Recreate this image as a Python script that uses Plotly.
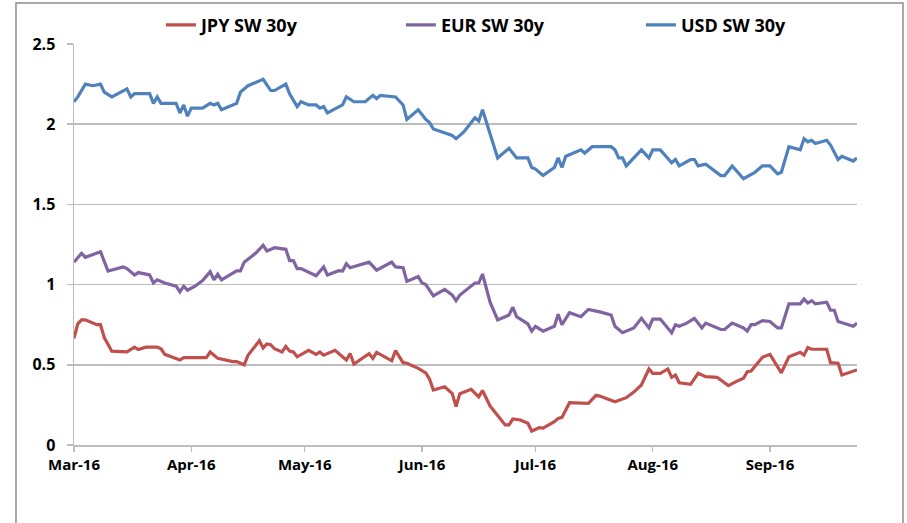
import plotly.graph_objects as go

# ---------------- data ----------------
usd_dates = ["2016-03-01","2016-03-02","2016-03-04","2016-03-06","2016-03-08","2016-03-09","2016-03-11","2016-03-15","2016-03-16","2016-03-17",
             "2016-03-21","2016-03-22","2016-03-23","2016-03-24","2016-03-28","2016-03-29","2016-03-30","2016-03-31","2016-04-01","2016-04-04",
             "2016-04-06","2016-04-07","2016-04-08","2016-04-09","2016-04-11","2016-04-13","2016-04-14","2016-04-16","2016-04-19","2016-04-20",
             "2016-04-22","2016-04-23","2016-04-26","2016-04-27","2016-04-29","2016-04-30","2016-05-02","2016-05-04","2016-05-05","2016-05-06",
             "2016-05-07","2016-05-11","2016-05-12","2016-05-14","2016-05-17","2016-05-19","2016-05-20","2016-05-21","2016-05-25","2016-05-27",
             "2016-05-28","2016-05-31","2016-06-02","2016-06-03","2016-06-04","2016-06-08","2016-06-09","2016-06-10","2016-06-12","2016-06-15",
             "2016-06-16","2016-06-17","2016-06-19","2016-06-21","2016-06-24","2016-06-26","2016-06-29","2016-06-30","2016-07-01","2016-07-03",
             "2016-07-06","2016-07-07","2016-07-08","2016-07-09","2016-07-10","2016-07-13","2016-07-14","2016-07-16","2016-07-17","2016-07-21",
             "2016-07-22","2016-07-23","2016-07-24","2016-07-25","2016-07-29","2016-07-31","2016-08-01","2016-08-03","2016-08-06","2016-08-07",
             "2016-08-08","2016-08-11","2016-08-12","2016-08-13","2016-08-15","2016-08-19","2016-08-20","2016-08-22","2016-08-25","2016-08-27",
             "2016-08-28","2016-08-30","2016-09-01","2016-09-03","2016-09-04","2016-09-06","2016-09-09","2016-09-10","2016-09-11","2016-09-12",
             "2016-09-13","2016-09-16","2016-09-17","2016-09-19","2016-09-20","2016-09-23","2016-09-24"]
usd_values = [2.14,2.17,2.25,2.24,2.25,2.20,2.17,2.22,2.17,2.19,
              2.19,2.13,2.17,2.13,2.13,2.07,2.12,2.05,2.10,2.10,
              2.13,2.12,2.13,2.09,2.11,2.13,2.20,2.24,2.27,2.28,
              2.21,2.21,2.25,2.19,2.11,2.14,2.12,2.12,2.10,2.11,
              2.07,2.12,2.17,2.14,2.14,2.18,2.16,2.18,2.17,2.12,
              2.03,2.09,2.03,2.01,1.97,1.94,1.93,1.91,1.95,2.04,
              2.02,2.09,1.94,1.79,1.85,1.79,1.79,1.73,1.72,1.68,
              1.73,1.79,1.73,1.80,1.81,1.84,1.82,1.86,1.86,1.86,
              1.84,1.79,1.79,1.74,1.84,1.79,1.84,1.84,1.76,1.78,
              1.74,1.78,1.78,1.74,1.75,1.68,1.68,1.74,1.66,1.69,
              1.70,1.74,1.74,1.69,1.70,1.86,1.84,1.91,1.89,1.90,
              1.88,1.90,1.87,1.78,1.80,1.77,1.79]

eur_dates = ["2016-03-01","2016-03-03","2016-03-04","2016-03-08","2016-03-10","2016-03-14","2016-03-15","2016-03-17","2016-03-18","2016-03-21",
             "2016-03-22","2016-03-23","2016-03-25","2016-03-28","2016-03-29","2016-03-30","2016-03-31","2016-04-02","2016-04-04","2016-04-06",
             "2016-04-07","2016-04-08","2016-04-09","2016-04-11","2016-04-13","2016-04-14","2016-04-15","2016-04-18","2016-04-20","2016-04-21",
             "2016-04-23","2016-04-26","2016-04-27","2016-04-28","2016-04-29","2016-04-30","2016-05-04","2016-05-06","2016-05-07","2016-05-10",
             "2016-05-11","2016-05-12","2016-05-13","2016-05-18","2016-05-20","2016-05-24","2016-05-25","2016-05-27","2016-05-28","2016-05-31",
             "2016-06-01","2016-06-02","2016-06-04","2016-06-07","2016-06-09","2016-06-10","2016-06-11","2016-06-15","2016-06-16","2016-06-17",
             "2016-06-19","2016-06-21","2016-06-24","2016-06-25","2016-06-26","2016-06-29","2016-06-30","2016-07-01","2016-07-03","2016-07-06",
             "2016-07-07","2016-07-08","2016-07-10","2016-07-13","2016-07-15","2016-07-18","2016-07-21","2016-07-22","2016-07-24","2016-07-27",
             "2016-07-29","2016-07-31","2016-08-01","2016-08-03","2016-08-06","2016-08-07","2016-08-08","2016-08-10","2016-08-12","2016-08-14",
             "2016-08-15","2016-08-19","2016-08-20","2016-08-22","2016-08-25","2016-08-26","2016-08-27","2016-08-28","2016-08-30","2016-09-01",
             "2016-09-03","2016-09-04","2016-09-06","2016-09-09","2016-09-10","2016-09-11","2016-09-12","2016-09-13","2016-09-16","2016-09-17",
             "2016-09-18","2016-09-19","2016-09-23","2016-09-24"]
eur_values = [1.14,1.195,1.17,1.205,1.085,1.11,1.10,1.06,1.075,1.06,
              1.01,1.03,1.01,0.99,0.955,0.99,0.965,0.99,1.025,1.08,
              1.03,1.065,1.03,1.06,1.085,1.085,1.14,1.195,1.245,1.21,
              1.23,1.22,1.15,1.15,1.10,1.10,1.055,1.11,1.06,1.087,
              1.085,1.13,1.105,1.14,1.09,1.14,1.11,1.105,1.02,1.05,
              1.01,1.00,0.93,0.97,0.935,0.90,0.935,1.01,1.01,1.066,
              0.89,0.78,0.81,0.86,0.80,0.755,0.71,0.74,0.71,0.74,
              0.815,0.75,0.825,0.80,0.845,0.83,0.81,0.74,0.70,0.73,
              0.79,0.73,0.785,0.785,0.70,0.75,0.74,0.76,0.79,0.73,
              0.76,0.72,0.72,0.76,0.73,0.71,0.75,0.75,0.775,0.77,
              0.73,0.73,0.88,0.88,0.91,0.885,0.90,0.88,0.89,0.84,
              0.84,0.77,0.74,0.76]

jpy_dates = ["2016-03-01","2016-03-02","2016-03-03","2016-03-04","2016-03-07","2016-03-08","2016-03-09","2016-03-11","2016-03-15","2016-03-17",
             "2016-03-18","2016-03-20","2016-03-23","2016-03-24","2016-03-25","2016-03-28","2016-03-29","2016-03-30","2016-04-05","2016-04-06",
             "2016-04-08","2016-04-12","2016-04-13","2016-04-15","2016-04-16","2016-04-19","2016-04-20","2016-04-21","2016-04-22","2016-04-23",
             "2016-04-25","2016-04-26","2016-04-27","2016-04-28","2016-04-29","2016-05-02","2016-05-04","2016-05-05","2016-05-06","2016-05-09",
             "2016-05-12","2016-05-13","2016-05-14","2016-05-18","2016-05-19","2016-05-20","2016-05-24","2016-05-25","2016-05-27","2016-05-28",
             "2016-05-31","2016-06-02","2016-06-03","2016-06-04","2016-06-07","2016-06-09","2016-06-10","2016-06-11","2016-06-14","2016-06-16",
             "2016-06-17","2016-06-19","2016-06-21","2016-06-23","2016-06-24","2016-06-25","2016-06-27","2016-06-29","2016-06-30","2016-07-02",
             "2016-07-03","2016-07-06","2016-07-07","2016-07-08","2016-07-10","2016-07-14","2016-07-15","2016-07-17","2016-07-18","2016-07-22",
             "2016-07-25","2016-07-27","2016-07-29","2016-07-31","2016-08-01","2016-08-03","2016-08-05","2016-08-06","2016-08-07","2016-08-08",
             "2016-08-11","2016-08-13","2016-08-15","2016-08-18","2016-08-21","2016-08-23","2016-08-25","2016-08-26","2016-08-27","2016-08-30",
             "2016-09-01","2016-09-04","2016-09-06","2016-09-09","2016-09-10","2016-09-11","2016-09-12","2016-09-16","2016-09-17","2016-09-19",
             "2016-09-20","2016-09-24"]
jpy_values = [0.665,0.755,0.78,0.78,0.75,0.75,0.67,0.585,0.58,0.61,
              0.595,0.61,0.61,0.60,0.565,0.535,0.53,0.545,0.545,0.58,
              0.54,0.52,0.52,0.50,0.56,0.65,0.605,0.63,0.625,0.60,
              0.58,0.615,0.585,0.58,0.55,0.59,0.565,0.58,0.56,0.59,
              0.53,0.57,0.505,0.57,0.54,0.578,0.525,0.588,0.513,0.51,
              0.478,0.45,0.41,0.343,0.363,0.32,0.24,0.32,0.347,0.30,
              0.34,0.243,0.187,0.125,0.125,0.162,0.156,0.135,0.087,0.108,
              0.105,0.145,0.166,0.172,0.264,0.264,0.26,0.31,0.305,0.27,
              0.295,0.33,0.374,0.474,0.447,0.447,0.474,0.422,0.436,0.388,
              0.378,0.447,0.426,0.422,0.37,0.395,0.416,0.457,0.461,0.547,
              0.565,0.45,0.55,0.578,0.56,0.607,0.597,0.597,0.513,0.51,
              0.436,0.468]

series_names = ["JPY SW 30y", "EUR SW 30y", "USD SW 30y"]
series_colors = ["#C0504D", "#8064A2", "#4F81BD"]

x_tick_vals = ["2016-03-01","2016-04-01","2016-05-01","2016-06-01","2016-07-01","2016-08-01","2016-09-01"]
x_tick_text = ["Mar-16","Apr-16","May-16","Jun-16","Jul-16","Aug-16","Sep-16"]
y_tick_vals = [0, 0.5, 1, 1.5, 2, 2.5]
y_tick_text = ["0", "0.5", "1", "1.5", "2", "2.5"]

# ---------------- figure ----------------
FONT = "Open Sans, Carlito, Calibri, sans-serif"
fig = go.Figure()
for name, xs, ys, col in zip(series_names,
                             [jpy_dates, eur_dates, usd_dates],
                             [jpy_values, eur_values, usd_values],
                             series_colors):
    fig.add_trace(go.Scatter(x=xs, y=ys, mode="lines", name=name,
                             line=dict(color=col, width=3.2)))

GRID = "#BDBDBD"
fig.update_layout(
    width=907, height=523,
    margin=dict(l=74, r=50, t=44, b=78, autoexpand=False),
    paper_bgcolor="white", plot_bgcolor="white",
    font=dict(family=FONT, size=15, color="#000000"),
    showlegend=True,
    legend=dict(orientation="h", x=0.111, y=1.047, xanchor="left", yanchor="middle",
                font=dict(family=FONT, size=18, color="#000000", weight="bold"),
                entrywidth=195, entrywidthmode="pixels", bgcolor="rgba(0,0,0,0)"),
    xaxis=dict(type="date", range=["2016-03-01", "2016-09-24"],
               tickvals=x_tick_vals, ticktext=x_tick_text,
               showgrid=False, showline=True, linecolor=GRID, linewidth=1.5,
               ticks="outside", ticklen=5, tickcolor=GRID, tickwidth=1.5,
               tickfont=dict(family=FONT, size=15, weight="bold"),
               zeroline=False, fixedrange=True),
    yaxis=dict(range=[0, 2.5], tickvals=y_tick_vals, ticktext=y_tick_text,
               showgrid=True, gridcolor=GRID, gridwidth=1.5,
               showline=True, linecolor=GRID, linewidth=1.5,
               ticks="outside", ticklen=6, tickcolor=GRID, tickwidth=1.5,
               tickfont=dict(family=FONT, size=16, weight="bold"),
               ticklabelstandoff=8,
               zeroline=False, fixedrange=True),
    shapes=[dict(type="rect", xref="paper", yref="paper",
                 x0=-0.0741, x1=1.0587, y0=-0.25, y1=1.1022,
                 line=dict(color="#8C8C8C", width=1.5), fillcolor="rgba(0,0,0,0)", layer="below")],
)

fig.write_html("out.html",
               config={"displayModeBar": False, "staticPlot": True},
               post_script="document.body.style.margin='0';document.body.style.padding='0';")
